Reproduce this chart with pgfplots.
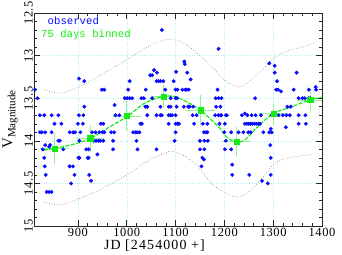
\documentclass[border=0pt]{standalone}
\usepackage{fontspec}
\setmainfont{Liberation Serif}
\newfontfamily\monofont{Liberation Mono}
\usepackage{pgfplots}
\usepackage{pgfplotstable}
\pgfplotsset{compat=1.18}
\definecolor{obsblue}{RGB}{10,10,255}
\definecolor{bingreen}{RGB}{20,235,20}
\definecolor{errgreen}{RGB}{150,240,150}
\definecolor{gridcyan}{RGB}{175,240,245}
\definecolor{envgray}{RGB}{120,120,120}

% observed V magnitudes
\pgfplotstableread{
jd mag
812 13.4
817 13.5
822 13.7
831 13.7
846 13.7
860 13.7
852 13.8
866 13.8
822 13.9
826 13.9
833 13.9
846 13.9
828 14.1
833 14.05
843 14.05
841 14.07
860 14.0
863 14.0
870 14.1
831 14.2
832 14.3
834 14.4
836 14.6
841 14.6
846 14.6
883 14.3
890 14.3
893 14.4
886 14.5
883 13.9
890 13.9
894 13.9
905 13.9
929 13.9
936 13.9
944 13.9
950 13.9
954 13.9
968 13.9
974 13.9
1013 13.9
1018 13.9
1021 13.9
1026 13.9
902 13.27
913 13.3
913 13.6
911 13.7
902 13.7
900 13.8
910 13.8
949 13.4
954 13.4
947 13.8
952 13.8
975 13.58
977 13.7
985 13.7
1003 13.4
1006 13.3
996 13.5
1001 13.5
903 14.0
932 14.0
937 14.0
942 14.0
946 14.0
952 14.0
972 14.0
1020 14.0
917 14.1
922 14.1
972 14.1
1022 14.1
1061 14.1
901 14.2
903 14.2
920 14.2
922 14.2
940 14.16
923 14.4
927 14.47
1006 13.5
1011 13.5
1030 13.5
1035 13.5
1052 13.5
1090 13.5
1100 13.5
1103 13.5
1182 13.5
1188 13.5
1039 13.4
1079 13.4
1100 13.4
1104 13.4
1114 13.4
1120 13.4
1123 13.4
1127 13.4
1186 13.4
1061 13.3
1065 13.3
1069 13.3
1075 13.3
1096 13.3
1072 12.7
1056 13.17
1062 13.2
1048 13.23
1052 13.23
1118 13.07
1119 13.1
1101 13.19
1124 13.2
1131 13.28
1188 12.92
1038 13.6
1042 13.6
1069 13.6
1086 13.6
1090 13.6
1102 13.6
1117 13.6
1126 13.6
1129 13.6
1136 13.6
1183 13.6
1192 13.6
1042 13.7
1061 13.7
1069 13.7
1072 13.7
1086 13.7
1090 13.7
1093 13.7
1100 13.7
1135 13.7
1143 13.7
1181 13.7
1188 13.7
1193 13.7
1205 13.7
1028 13.8
1031 13.8
1086 13.8
1100 13.8
1104 13.8
1107 13.8
1138 13.8
1156 13.8
1165 13.8
1190 13.8
1201 13.8
1100 13.9
1158 13.9
1162 13.9
1165 13.9
1098 14.0
1150 14.0
1159 14.0
1166 14.0
1150 14.1
1159 14.1
1155 14.2
1158 14.22
1153 14.3
1194 13.5
1263 13.5
1352 13.5
1360 13.5
1365 13.5
1372 13.5
1376 13.5
1292 13.09
1303 13.12
1303 13.2
1308 13.3
1348 13.2
1306 13.4
1310 13.4
1316 13.42
1342 13.4
1373 13.4
1387 13.37
1388 13.4
1329 13.6
1336 13.6
1194 13.7
1203 13.7
1236 13.7
1242 13.68
1247 13.7
1256 13.7
1264 13.7
1275 13.7
1297 13.7
1311 13.7
1320 13.7
1327 13.7
1334 13.7
1352 13.7
1366 13.7
1242 13.8
1246 13.8
1250 13.8
1254 13.8
1258 13.8
1262 13.8
1266 13.8
1270 13.8
1273 13.8
1352 13.8
1367 13.8
1326 13.84
1295 13.86
1200 13.9
1214 13.9
1229 13.9
1239 13.9
1249 13.9
1254 13.9
1280 13.9
1292 13.9
1297 13.9
1203 14.0
1294 14.05
1201 14.1
1214 14.1
1295 14.2
1216 14.28
1216 14.4
1251 14.4
1295 14.4
1277 14.47
1289 14.5
}\observed

% 75 day bins
\pgfplotstableread{
jd mag ex ey
852 14.09 24 0.15
925 13.97 24 0.13
1000 13.71 24 0.15
1076 13.48 22 0.10
1151 13.64 25 0.15
1225 14.01 24 0.14
1301 13.68 25 0.10
1376 13.52 23 0.10
}\binned

% green fitted curve
\pgfplotstableread{
jd mag
830 14.11
852 14.09
885 14.05
923 13.98
961 13.85
1002 13.71
1036 13.56
1074 13.48
1098 13.48
1122 13.54
1151 13.64
1187 13.83
1207 13.97
1225 14.01
1242 13.99
1269 13.83
1300 13.68
1338 13.60
1375 13.52
1399 13.49
}\bincurve

\pgfplotstableread{
jd mag
831 13.40
863 13.44
902 13.37
946 13.23
1000 13.05
1042 12.90
1069 12.83
1092 12.81
1119 12.86
1146 12.98
1174 13.13
1201 13.29
1229 13.37
1249 13.31
1277 13.17
1304 13.02
1332 12.94
1359 12.90
1383 12.85
}\envupper

\pgfplotstableread{
jd mag
831 14.72
860 14.75
898 14.69
946 14.57
1000 14.40
1042 14.24
1076 14.15
1092 14.12
1119 14.18
1146 14.30
1174 14.50
1201 14.61
1229 14.66
1256 14.57
1283 14.40
1304 14.26
1332 14.20
1380 14.16
}\envlower

\begin{document}
\begin{tikzpicture}
\path[use as bounding box] (-34bp,-29bp) rectangle (308bp,226bp);
\begin{axis}[
  scale only axis, width=288bp, height=213bp,
  xmin=810, xmax=1400, ymin=12.5, ymax=15, y dir=reverse,
  xtick={900,1000,...,1400}, ytick={12.5,13,...,15},
  minor x tick num=4, minor y tick num=4,
  tick align=inside, xtick pos=both, ytick pos=both,
  xticklabel pos=lower, yticklabel pos=left,
  major tick length=6bp, minor tick length=3bp,
  grid=major, major grid style={gridcyan, dotted, line width=0.4pt},
  axis line style={black!85, line width=0.6pt},
  tick style={black!85, line width=0.5pt},
  /pgf/number format/assume math mode=true,
  /pgf/number format/1000 sep={},
  ticklabel style={font=\fontsize{12.5}{12.5}\selectfont\addfontfeatures{LetterSpace=5}},
  xticklabel style={inner sep=2.5bp},
  yticklabel style={rotate=90, anchor=south, inner sep=1bp},
  xlabel={JD [2454000 +]},
  xlabel style={font=\fontsize{14}{14}\selectfont\addfontfeatures{LetterSpace=8}, at={(axis description cs:0.418,-0.092)}, anchor=center},
  ylabel={V\raisebox{-3bp}{\fontsize{11}{11}\selectfont Magnitude}},
  ylabel style={font=\fontsize{15}{15}\selectfont, at={(axis description cs:-0.083,0.5)}, rotate=0, anchor=center},
]
\addplot[envgray, dotted, line width=0.6pt, smooth] table[x=jd, y=mag] {\envupper};
\addplot[envgray, dotted, line width=0.6pt, smooth] table[x=jd, y=mag] {\envlower};
\addplot[only marks, mark=*, mark size=1.75bp, color=obsblue] table[x=jd, y=mag] {\observed};
\addplot[only marks, mark=square*, mark size=2.6bp, color=bingreen,
  error bars/.cd, x dir=both, y dir=both, x explicit, y explicit,
  error bar style={errgreen, line width=0.8pt}, error mark options={errgreen, mark size=2.5bp, line width=0.8pt}]
  table[x=jd, y=mag, x error=ex, y error=ey] {\binned};
\addplot[bingreen, dash pattern=on 4bp off 1.5bp, line width=1.2pt, smooth] table[x=jd, y=mag] {\bincurve};
\node[anchor=west, text=obsblue, font=\monofont\fontsize{10.7}{10.7}\selectfont, inner sep=0pt] at (axis description cs:0.047,0.963) {observed};
\node[anchor=west, text=bingreen, font=\monofont\fontsize{10.7}{10.7}\selectfont, inner sep=0pt] at (axis description cs:0.024,0.898) {75 days binned};
\end{axis}
\end{tikzpicture}
\end{document}
